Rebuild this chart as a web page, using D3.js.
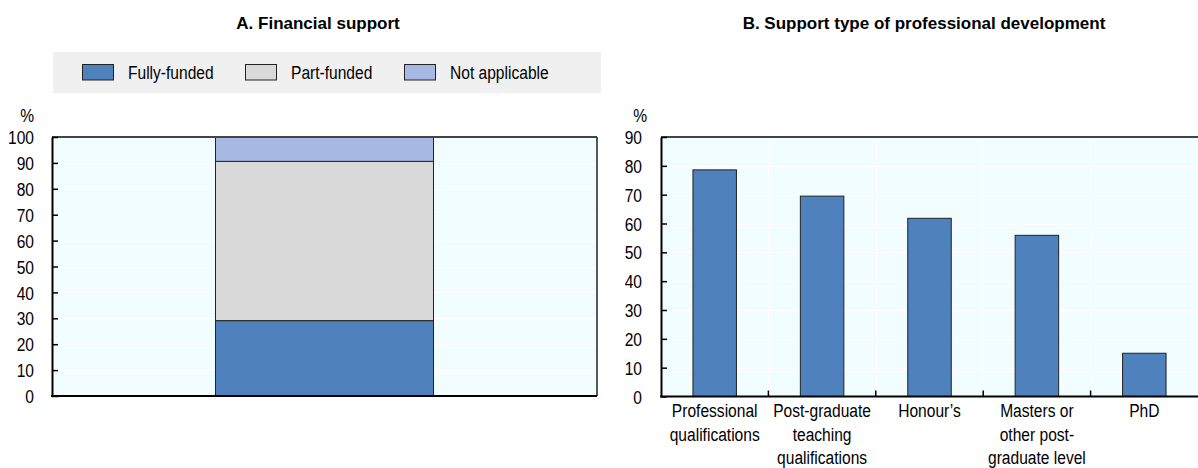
<!DOCTYPE html>
<html>
<head>
<meta charset="utf-8">
<script src="https://cdn.jsdelivr.net/npm/d3@7"></script>
<style>
  body { margin: 0; background: #fff; }
  svg text { font-family: "Liberation Sans", Arial, sans-serif; fill: #000; }
  .title { font-weight: bold; font-size: 17px; }
</style>
</head>
<body>
<svg id="chart" width="1198" height="468"></svg>
<script>
// ---- Data ----
const seriesNames = ["Fully-funded", "Part-funded", "Not applicable"];
const panelACategories = ["Total"];
const fullyFunded = [29.1];
const partFunded = [61.5];
const notApplicable = [9.4];
const panelATicks = [0, 10, 20, 30, 40, 50, 60, 70, 80, 90, 100];

const panelBCategories = [
  ["Professional", "qualifications"],
  ["Post-graduate", "teaching", "qualifications"],
  ["Honour\u2019s"],
  ["Masters or", "other post-", "graduate level"],
  ["PhD"]
];
const panelBValues = [78.6, 69.5, 61.8, 55.9, 15.0];
const panelBTicks = [0, 10, 20, 30, 40, 50, 60, 70, 80, 90];

const titleA = "A. Financial support";
const titleB = "B. Support type of professional development";

// ---- Styles ----
const colors = { "Fully-funded": "#4F81BD", "Part-funded": "#D9D9D9", "Not applicable": "#A7B9E3" };
const plotBg = "#F2FDFF";
const fontSize = 19;
const narrowFactor = 0.82;

// convert x/y positioned text into a horizontally condensed text (Arial Narrow look)
function narrow(sel) {
  sel.each(function () {
    const t = d3.select(this);
    const x = +t.attr("x") || 0, y = +t.attr("y") || 0;
    t.attr("x", 0).attr("y", 0)
      .attr("transform", `translate(${x},${y}) scale(${narrowFactor},1)`)
      .style("font-size", fontSize + "px");
  });
}

const svg = d3.select("#chart");

// ---- Titles ----
svg.append("text").attr("class", "title").attr("x", 318).attr("y", 29).attr("text-anchor", "middle").text(titleA);
svg.append("text").attr("class", "title").attr("x", 924).attr("y", 29).attr("text-anchor", "middle").text(titleB);

// ---- Legend ----
const legend = svg.append("g");
legend.append("rect").attr("x", 53).attr("y", 52).attr("width", 548).attr("height", 41).attr("fill", "#F0F0F0");
const legendX = [82, 245, 404];
seriesNames.forEach((name, i) => {
  const g = legend.append("g").attr("transform", `translate(${legendX[i]},0)`);
  g.append("rect").attr("x", 0.5).attr("y", 64.5).attr("width", 31).attr("height", 15.5)
    .attr("fill", colors[name]).attr("stroke", "#222").attr("stroke-width", 1);
  g.append("text").attr("x", 46).attr("y", 78.5).text(name).call(narrow);
});

// ---- Panel A ----
{
  const left = 52, right = 597, top = 137, bottom = 396;
  const y = d3.scaleLinear().domain([0, 100]).range([bottom, top]);
  const x = d3.scaleBand().domain(panelACategories).range([left, right]).padding(0);
  const g = svg.append("g");
  g.append("rect").attr("x", left).attr("y", top).attr("width", right - left).attr("height", bottom - top).attr("fill", plotBg);
  g.selectAll(".grid").data(panelATicks.slice(1, -1)).join("line")
    .attr("x1", left).attr("x2", right).attr("y1", d => Math.round(y(d)) + 0.5).attr("y2", d => Math.round(y(d)) + 0.5)
    .attr("stroke", "#fff").attr("stroke-width", 1);
  const stackData = panelACategories.map((c, i) => ({ cat: c, "Fully-funded": fullyFunded[i], "Part-funded": partFunded[i], "Not applicable": notApplicable[i] }));
  const stacked = d3.stack().keys(seriesNames)(stackData);
  const bw = x.bandwidth() * 0.4;
  stacked.forEach(layer => {
    g.selectAll(null).data(layer).join("rect")
      .attr("x", d => x(d.data.cat) + (x.bandwidth() - bw) / 2)
      .attr("width", bw)
      .attr("y", d => y(d[1]))
      .attr("height", d => y(d[0]) - y(d[1]))
      .attr("fill", colors[layer.key]).attr("stroke", "#222").attr("stroke-width", 1);
  });
  g.append("line").attr("x1", left).attr("x2", right).attr("y1", top).attr("y2", top).attr("stroke", "#444").attr("stroke-width", 2);
  g.append("line").attr("x1", right).attr("x2", right).attr("y1", top).attr("y2", bottom).attr("stroke", "#222").attr("stroke-width", 1.5);
  const yAxis = d3.axisLeft(y).tickValues(panelATicks).tickSize(-6).tickPadding(18).tickSizeOuter(0);
  const ya = g.append("g").attr("transform", `translate(${left},0)`).call(yAxis);
  ya.select(".domain").attr("stroke", "#000").attr("stroke-width", 2);
  ya.selectAll(".tick line").attr("stroke", "#000").attr("stroke-width", 1.5);
  ya.selectAll(".tick text").attr("dy", "0.35em").call(narrow);
  g.append("line").attr("x1", left - 1).attr("x2", right).attr("y1", bottom).attr("y2", bottom).attr("stroke", "#000").attr("stroke-width", 2);
  g.append("text").attr("x", 34).attr("y", 122).attr("text-anchor", "end").text("%").call(narrow);
}

// ---- Panel B ----
{
  const left = 661, right = 1198, top = 137, bottom = 396.5;
  const y = d3.scaleLinear().domain([0, 90]).range([bottom, top]);
  const keys = panelBCategories.map(d => d.join(" "));
  const x = d3.scaleBand().domain(keys).range([left, right]).padding(0);
  const g = svg.append("g");
  g.append("rect").attr("x", left).attr("y", top).attr("width", right - left).attr("height", bottom - top).attr("fill", plotBg);
  g.selectAll(".hgrid").data(panelBTicks.slice(1, -1)).join("line")
    .attr("x1", left).attr("x2", right).attr("y1", d => Math.round(y(d)) + 0.5).attr("y2", d => Math.round(y(d)) + 0.5)
    .attr("stroke", "#fff").attr("stroke-width", 1);
  g.selectAll(".vgrid").data(keys.slice(1)).join("line")
    .attr("x1", d => Math.round(x(d)) + 0.5).attr("x2", d => Math.round(x(d)) + 0.5).attr("y1", top).attr("y2", bottom)
    .attr("stroke", "#fff").attr("stroke-width", 1);
  const bw = x.bandwidth() * 0.405;
  g.selectAll(".bar").data(panelBValues).join("rect")
    .attr("x", (d, i) => x(keys[i]) + (x.bandwidth() - bw) / 2)
    .attr("width", bw)
    .attr("y", d => y(d))
    .attr("height", d => y(0) - y(d))
    .attr("fill", colors["Fully-funded"]).attr("stroke", "#222").attr("stroke-width", 1);
  g.append("line").attr("x1", left).attr("x2", right).attr("y1", top).attr("y2", top).attr("stroke", "#444").attr("stroke-width", 2);
  const yAxis = d3.axisLeft(y).tickValues(panelBTicks).tickSize(-6).tickPadding(19).tickSizeOuter(0);
  const ya = g.append("g").attr("transform", `translate(${left},0)`).call(yAxis);
  ya.select(".domain").attr("stroke", "#000").attr("stroke-width", 2);
  ya.selectAll(".tick line").attr("stroke", "#000").attr("stroke-width", 1.5);
  ya.selectAll(".tick text").attr("dy", "0.35em").call(narrow);
  g.selectAll(".xt").data(keys.slice(1)).join("line")
    .attr("x1", d => x(d)).attr("x2", d => x(d)).attr("y1", bottom).attr("y2", bottom - 6)
    .attr("stroke", "#000").attr("stroke-width", 1.5);
  g.append("line").attr("x1", left - 1).attr("x2", right).attr("y1", bottom).attr("y2", bottom).attr("stroke", "#000").attr("stroke-width", 2);
  panelBCategories.forEach((lines, i) => {
    lines.forEach((ln, j) => {
      g.append("text").attr("text-anchor", "middle")
        .attr("x", x(keys[i]) + x.bandwidth() / 2).attr("y", 417 + j * 23.5)
        .text(ln).call(narrow);
    });
  });
  g.append("text").attr("x", 647).attr("y", 122).attr("text-anchor", "end").text("%").call(narrow);
}
</script>
</body>
</html>
